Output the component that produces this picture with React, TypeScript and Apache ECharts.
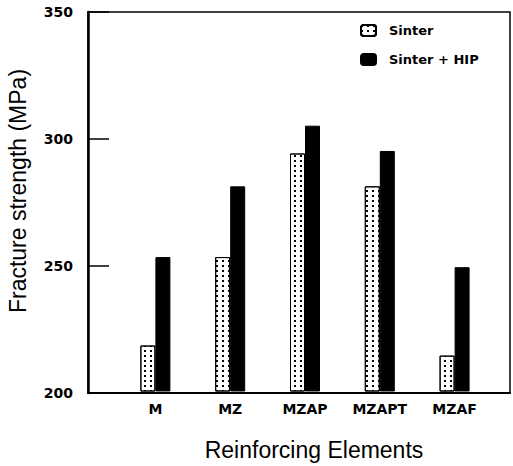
import React, { useEffect, useRef } from "react";
import * as echarts from "echarts";

const categories = ["M", "MZ", "MZAP", "MZAPT", "MZAF"];
const sinter = [218, 253, 294, 281, 214];
const sinterHip = [253, 281, 305, 295, 249];
const yMin = 200;
const yMax = 350;
const yStep = 50;

export default function App() {
  const ref = useRef<HTMLDivElement>(null);
  useEffect(() => {
    if (!ref.current) return;
    const chart = echarts.init(ref.current, null, { renderer: "svg" });
    const top = 12;
    const bottom = 73;
    chart.setOption({
      animation: false,
      backgroundColor: "#fff",
      textStyle: { fontFamily: "Liberation Sans", color: "#000" },
      grid: [
        { left: 88, right: 3, top, bottom, show: true, borderColor: "#000", borderWidth: 1.5, backgroundColor: "transparent" },
        { left: 118, right: 21, top, bottom },
      ],
      legend: {
        orient: "vertical",
        left: 355,
        top: 19,
        itemWidth: 15,
        itemHeight: 11,
        itemGap: 16,
        textStyle: { fontFamily: "DejaVu Sans", fontWeight: "bold", fontSize: 13, color: "#000", padding: [0, 0, 0, 8] },
        data: ["Sinter", "Sinter + HIP"],
      },
      graphic: [
        {
          type: "text",
          x: 18,
          y: 191,
          rotation: Math.PI / 2,
          style: {
            text: "Fracture strength (MPa)",
            fontFamily: "Liberation Sans",
            fontSize: 23,
            fill: "#000",
            align: "center",
            verticalAlign: "middle",
          },
        },
      ],
      xAxis: [
        {
          gridIndex: 0,
          type: "value",
          min: 0,
          max: 1,
          axisLine: { show: true, lineStyle: { color: "#000", width: 2 } },
          axisTick: { show: false },
          axisLabel: { show: false },
          splitLine: { show: false },
        },
        {
          gridIndex: 1,
          type: "category",
          data: categories,
          axisLine: { show: false },
          axisTick: { show: false },
          axisLabel: { fontFamily: "DejaVu Sans", fontWeight: "bold", fontSize: 14, color: "#000", margin: 11 },
          name: "Reinforcing Elements",
          nameLocation: "middle",
          nameGap: 47,
          nameTextStyle: { fontFamily: "Liberation Sans", fontSize: 23, color: "#000", padding: [0, 0, 0, 18] },
        },
      ],
      yAxis: [
        {
          gridIndex: 0,
          type: "value",
          min: yMin,
          max: yMax,
          interval: yStep,
          axisLine: { show: true, lineStyle: { color: "#000", width: 2.5 } },
          axisTick: { show: true, inside: true, length: 21, lineStyle: { color: "#000", width: 1.5 } },
          axisLabel: { fontFamily: "DejaVu Sans", fontWeight: "bold", fontSize: 14, color: "#000", margin: 15 },
          splitLine: { show: false },
        },
        {
          gridIndex: 1,
          type: "value",
          min: yMin,
          max: yMax,
          interval: yStep,
          show: false,
        },
      ],
      series: [
        {
          name: "Sinter",
          type: "bar",
          xAxisIndex: 1,
          yAxisIndex: 1,
          data: sinter,
          barWidth: 15,
          barGap: "0%",
          itemStyle: {
            color: "#fff",
            borderColor: "#000",
            borderWidth: 1,
            decal: {
              symbol: "rect",
              symbolSize: 1,
              color: "#000",
              dashArrayX: [2, 4],
              dashArrayY: [2, 3],
              rotation: 0,
            },
          },
        },
        {
          name: "Sinter + HIP",
          type: "bar",
          xAxisIndex: 1,
          yAxisIndex: 1,
          data: sinterHip,
          barWidth: 15,
          barGap: "0%",
          itemStyle: { color: "#000", borderColor: "#000", borderWidth: 1 },
        },
      ],
    });
    return () => chart.dispose();
  }, []);
  return <div ref={ref} style={{ position: "absolute", left: 0, top: 0, width: 513, height: 466 }} />;
}
